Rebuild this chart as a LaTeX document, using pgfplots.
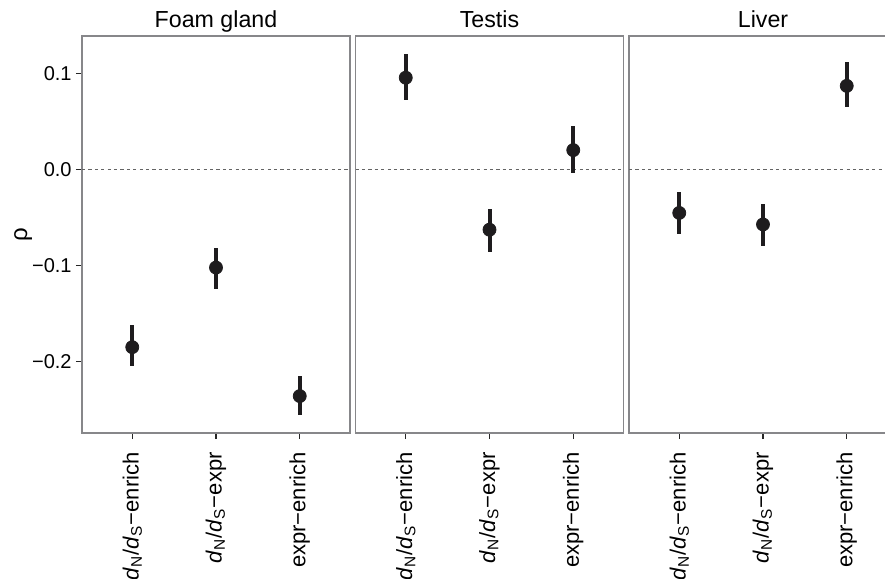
\documentclass[border=0pt]{standalone}
\usepackage{fontspec}
\setmainfont{Liberation Sans}
\usepackage{pgfplots}
\pgfplotsset{compat=1.18}
\usepackage{pgfplotstable}
\definecolor{framegray}{RGB}{135,135,138}
\definecolor{dotcol}{RGB}{30,28,30}
\definecolor{dashgray}{RGB}{100,100,100}
\newcommand\dnds[1]{\textit{d}\textsubscript{N}/\textit{d}\textsubscript{S}−#1}

\pgfplotstableread{
x y ep em
1 -0.185 0.023 0.020
2 -0.102 0.020 0.022
3 -0.236 0.021 0.020
}\foam
\pgfplotstableread{
x y ep em
1 0.096 0.025 0.023
2 -0.0625 0.0215 0.0235
3 0.0205 0.0255 0.024
}\testis
\pgfplotstableread{
x y ep em
1 -0.045 0.022 0.022
2 -0.057 0.021 0.022
3 0.0875 0.025 0.0225
}\liver

\pgfplotsset{panel/.style={
 scale only axis, width=134pt, height=198.5pt, anchor=south west,
 xmin=0.4, xmax=3.6, ymin=-0.2745, ymax=0.1395,
 axis line style={draw=framegray, line width=0.7pt},
 xtick={1,2,3}, xticklabels={\dnds{enrich}, \dnds{expr}, expr−enrich},
 tick align=outside, major tick length=3pt,
 tick style={draw=black!85, line width=0.6pt},
 xtick pos=left, ytick pos=left,
 xticklabel style={yshift=-6.5pt, rotate=90, anchor=east, inner sep=0pt, font=\fontsize{11}{13}\selectfont},
 yticklabel style={xshift=-2pt, anchor=east, inner sep=0pt, font=\fontsize{10}{12}\selectfont},
 every axis title shift=0pt,
 title style={at={(0.5,1)}, anchor=base, yshift=4pt, font=\fontsize{11.6}{14}\selectfont},
},
pts/.style={only marks, mark=*, mark size=3.25pt, color=dotcol, mark options={fill=dotcol, draw=dotcol},
 error bars/.cd, y dir=both, y explicit, error mark=none, error bar style={line width=2pt, dotcol}},
zl/.style={dashgray, line width=0.5pt, dash pattern=on 1.6pt off 1.6pt, forget plot}
}

\begin{document}
\begin{tikzpicture}
\begin{axis}[panel, at={(41pt,73pt)}, title={Foam gland},
 ytick={-0.2,-0.1,0,0.1}, yticklabels={−0.2,−0.1,0.0,0.1},
 ylabel={ρ}, ylabel style={at={(rel axis cs:-0.22,0.5)}, anchor=center, font=\fontsize{12}{14}\selectfont}]
\addplot[zl] coordinates {(0.4,0) (3.6,0)};
\addplot[pts] table[x=x, y=y, y error plus=ep, y error minus=em]{\foam};
\end{axis}
\begin{axis}[panel, at={(177.75pt,73pt)}, title={Testis}, ytick=\empty]
\addplot[zl] coordinates {(0.4,0) (3.6,0)};
\addplot[pts] table[x=x, y=y, y error plus=ep, y error minus=em]{\testis};
\end{axis}
\begin{axis}[panel, at={(314.5pt,73pt)}, title={Liver}, ytick=\empty]
\addplot[zl] coordinates {(0.4,0) (3.6,0)};
\addplot[pts] table[x=x, y=y, y error plus=ep, y error minus=em]{\liver};
\end{axis}
\pgfresetboundingbox
\useasboundingbox (0,0) rectangle (442.5pt,289.5pt);
\end{tikzpicture}
\end{document}
